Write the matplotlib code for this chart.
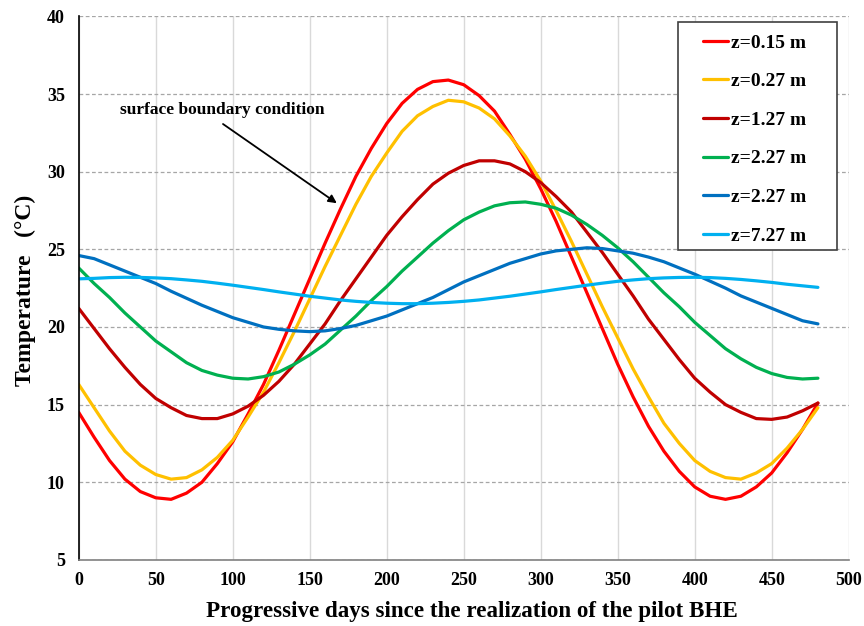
import matplotlib.pyplot as plt
from matplotlib.patches import Rectangle

# days since the realization of the pilot BHE (every 10 days)
days = list(range(0, 481, 10))

t_015 = [14.5, 12.9, 11.4, 10.2, 9.4, 9.0, 8.9, 9.3, 10.0, 11.2,
         12.6, 14.4, 16.3, 18.5, 20.8, 23.1, 25.4, 27.6, 29.7, 31.5,
         33.1, 34.4, 35.3, 35.8, 35.9, 35.6, 34.9, 33.9, 32.4, 30.8,
         28.9, 26.8, 24.5, 22.2, 19.9, 17.6, 15.5, 13.6, 12.0, 10.7,
         9.7, 9.1, 8.9, 9.1, 9.7, 10.6, 11.9, 13.4, 15.1]
t_027 = [16.3, 14.8, 13.3, 12.0, 11.1, 10.5, 10.2, 10.3, 10.8, 11.6,
         12.7, 14.2, 15.8, 17.7, 19.7, 21.8, 23.9, 25.9, 27.9, 29.7,
         31.2, 32.6, 33.6, 34.2, 34.6, 34.5, 34.1, 33.4, 32.3, 31.0,
         29.4, 27.5, 25.5, 23.4, 21.3, 19.3, 17.3, 15.5, 13.8, 12.5,
         11.4, 10.7, 10.3, 10.2, 10.6, 11.2, 12.2, 13.4, 14.8]
t_127 = [21.2, 19.9, 18.6, 17.4, 16.3, 15.4, 14.8, 14.3, 14.1, 14.1,
         14.4, 14.9, 15.6, 16.5, 17.6, 18.9, 20.2, 21.7, 23.1, 24.5,
         25.9, 27.1, 28.2, 29.2, 29.9, 30.4, 30.7, 30.7, 30.5, 30.0,
         29.3, 28.4, 27.4, 26.1, 24.8, 23.4, 22.0, 20.5, 19.2, 17.9,
         16.7, 15.8, 15.0, 14.5, 14.1, 14.05, 14.2, 14.6, 15.1]
t_227 = [23.8, 22.8, 21.9, 20.9, 20.0, 19.1, 18.4, 17.7, 17.2, 16.9,
         16.7, 16.65, 16.8, 17.1, 17.6, 18.2, 18.9, 19.8, 20.7, 21.7,
         22.6, 23.6, 24.5, 25.4, 26.2, 26.9, 27.4, 27.8, 28.0, 28.05,
         27.9, 27.65, 27.2, 26.6, 25.9, 25.1, 24.2, 23.2, 22.2, 21.3,
         20.3, 19.45, 18.6, 17.95, 17.4, 17.0, 16.75, 16.65, 16.7]
t_227b = [24.6, 24.4, 24.0, 23.6, 23.2, 22.8, 22.3, 21.85, 21.4, 21.0,
          20.6, 20.3, 20.0, 19.85, 19.75, 19.7, 19.75, 19.9, 20.1, 20.4,
          20.7, 21.1, 21.5, 21.9, 22.4, 22.9, 23.3, 23.7, 24.1, 24.4,
          24.7, 24.9, 25.0, 25.1, 25.05, 24.9, 24.75, 24.5, 24.2, 23.8,
          23.4, 22.95, 22.5, 22.0, 21.6, 21.2, 20.8, 20.4, 20.2]
t_727 = [23.1, 23.13, 23.18, 23.2, 23.19, 23.16, 23.11, 23.03, 22.94, 22.82,
         22.69, 22.55, 22.41, 22.26, 22.12, 21.98, 21.86, 21.74, 21.65, 21.58,
         21.53, 21.5, 21.5, 21.53, 21.58, 21.65, 21.74, 21.86, 21.98, 22.12,
         22.26, 22.41, 22.55, 22.69, 22.82, 22.94, 23.03, 23.11, 23.16, 23.19,
         23.2, 23.18, 23.13, 23.06, 22.97, 22.87, 22.75, 22.65, 22.55]

series = [t_015, t_027, t_127, t_227, t_227b, t_727]
labels = ["z=0.15 m", "z=0.27 m", "z=1.27 m", "z=2.27 m", "z=2.27 m", "z=7.27 m"]
colors = ["#FF0000", "#FFC000", "#C00000", "#00B050", "#0070C0", "#00B0F0"]

plt.rcParams['font.family'] = ['Liberation Serif', 'DejaVu Serif']
plt.rcParams['font.weight'] = 'bold'

fig = plt.figure(figsize=(8.64, 6.26), dpi=100)
ax = fig.add_axes([0.0911, 0.1056, 0.8912, 0.8682])

for y, lab, c in zip(series, labels, colors):
	ax.plot(days, y, color=c, lw=2.3, label=lab, solid_capstyle='round')

ax.set_xlim(0, 500)
ax.set_ylim(5, 40)
ax.set_xticks(range(0, 501, 50))
ax.set_yticks(range(5, 41, 5))
ax.tick_params(length=0, labelsize=13)
ax.tick_params(axis='y', pad=10)
ax.tick_params(axis='x', pad=9)
for tl in ax.get_xticklabels() + ax.get_yticklabels():
	tl.set_fontweight('bold')

ax.xaxis.grid(True, color="#d9d9d9", lw=1, ls="-")
ax.yaxis.grid(True, color="#a6a6a6", lw=0.9, ls=(0, (3, 2)))
ax.set_axisbelow(True)
ax.spines['top'].set_visible(False)
ax.spines['right'].set_visible(False)
ax.spines['left'].set_color("black")
ax.spines['left'].set_linewidth(1.2)
ax.spines['bottom'].set_color("#808080")
ax.spines['bottom'].set_linewidth(1.2)

# axis titles placed like in the original (x title is a bit right of centre)
fig.text(0.5463, 0.0224, "Progressive days since the realization of the pilot BHE",
	fontsize=16.6, fontweight='bold', ha='center', va='center')
fig.text(0.0295, 0.5367, "Temperature   (°C)", fontsize=17, fontweight='bold',
	rotation=90, ha='center', va='center')

ax.text(93, 34.0, "surface boundary condition", fontsize=12.5, fontweight='bold',
	ha='center', va='center')
ax.annotate("", xy=(167.6, 27.97), xytext=(93.7, 33.07),
	arrowprops=dict(arrowstyle="-|>", color="black", lw=1.3, shrinkA=0, shrinkB=0,
		mutation_scale=12))

# legend box drawn separately so the padding can match the original
ax.add_patch(Rectangle((0.7783, 0.5703), 0.2065, 0.4194, transform=ax.transAxes,
	facecolor="white", edgecolor="#404040", lw=1.2, zorder=4))
leg = ax.legend(loc="upper left", bbox_to_anchor=(0.8108, 0.9676), frameon=False,
	handlelength=1.3, handletextpad=0.15, labelspacing=1.08, borderpad=0,
	borderaxespad=0, prop={'size': 14, 'weight': 'bold'})
leg.set_zorder(5)

fig.savefig("out.png", dpi=100)
